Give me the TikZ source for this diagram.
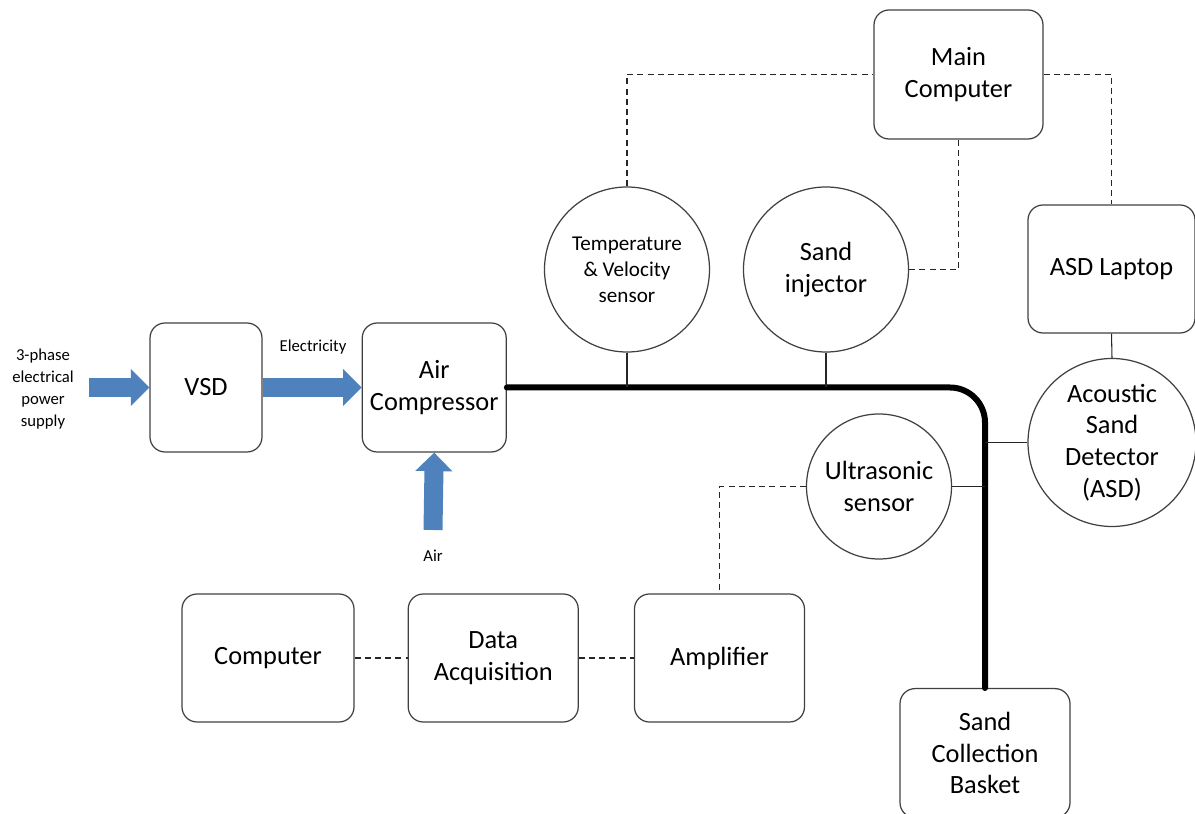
\documentclass[tikz,border=0pt]{standalone}
\usepackage{fontspec}
\setmainfont{Carlito}
\usepackage{tikz}
\usetikzlibrary{shapes,arrows.meta,positioning,calc}
\definecolor{flowblue}{HTML}{4F81BD}

\begin{document}
\begin{tikzpicture}[
    box/.style={rectangle, rounded corners=0.3cm, draw=black!75, line width=0.7pt, align=center, font=\fontsize{15}{18}\selectfont, inner sep=0pt},
    sensor/.style={circle, draw=black!75, line width=0.7pt, align=center, font=\fontsize{15}{18}\selectfont, inner sep=0pt},
    link/.style={black!85, line width=0.6pt},
    signal/.style={black!85, line width=0.6pt, dash pattern=on 3.4pt off 2.4pt},
    pipe/.style={line width=0.12cm, rounded corners=0.7cm, line cap=round},
    flow/.style={flowblue, line width=0.38cm, -{Triangle[width=0.72cm, length=0.37cm]}},
    label/.style={font=\fontsize{9.5}{12.5}\selectfont, align=center}
]
\useasboundingbox (0,0) rectangle (23.9,16.28);

% Supply chain
\node[box, minimum width=2.24cm, minimum height=2.58cm] (vsd) at (4.12,8.53) {VSD};
\node[box, minimum width=2.88cm, minimum height=2.58cm, right=1.98cm of vsd] (aircomp) {Air\\Compressor};

% Control computers
\node[box, minimum width=3.38cm, minimum height=2.58cm] (maincomp) at (19.17,14.79) {Main\\Computer};
\node[box, minimum width=3.34cm, minimum height=2.56cm] (laptop) at (22.23,10.90) {ASD Laptop};

% Sensors
\node[sensor, minimum size=3.3cm, font=\fontsize{12}{14.7}\selectfont] (tempsens) at (12.54,10.89) {Temperature\\\& Velocity\\sensor};
\node[sensor, minimum size=3.3cm] (injector) at (16.52,10.89) {Sand\\injector};
\node[sensor, minimum size=2.9cm] (ultrasonic) at (17.58,6.55) {Ultrasonic\\sensor};
\node[sensor, minimum size=3.36cm] (asd) at (22.24,7.43) {Acoustic\\Sand\\Detector\\(ASD)};

% Acquisition chain
\node[box, minimum width=3.44cm, minimum height=2.56cm] (computer) at (5.36,3.12) {Computer};
\node[box, minimum width=3.4cm, minimum height=2.56cm, right=1.06cm of computer] (dacq) {Data\\Acquisition};
\node[box, minimum width=3.4cm, minimum height=2.56cm, right=1.1cm of dacq] (amplifier) {Amplifier};

% Collection basket
\node[box, minimum width=3.4cm, minimum height=2.58cm, anchor=north] (basket) at (19.70,2.52) {Sand\\Collection\\Basket};

% Blue flow arrows
\coordinate (supply) at (1.78,8.53);
\coordinate (airin) at (8.66,5.68);
\draw[flow] (supply) -- (vsd.west);
\draw[flow] (vsd.east) -- (aircomp.west);
\draw[flow] (airin) -- (aircomp.south);

% Flow labels
\node[label] (supplylbl) at (0.86,8.50) {3-phase\\electrical\\power\\supply};
\node[label] (eleclbl) at (6.26,9.34) {Electricity};
\node[label] (airlbl) at (8.66,5.16) {Air};

% Pipe line
\draw[pipe] (aircomp.east) -| (basket.north);

% Sensor taps on the pipe
\draw[link] (tempsens.south) -- (tempsens.south |- aircomp.east);
\draw[link] (injector.south) -- (injector.south |- aircomp.east);
\draw[link] (ultrasonic.east) -- (ultrasonic.east -| basket.north);
\draw[link] (asd.west) -- (asd.west -| basket.north);
\draw[link] (laptop.south) -- (asd.north);

% Signal lines
\draw[signal] (tempsens.north) |- (maincomp.west);
\draw[signal] (maincomp.south) |- (injector.east);
\draw[signal] (maincomp.east) -| (laptop.north);
\draw[signal] (ultrasonic.west) -| (amplifier.north);
\draw[signal] (computer.east) -- (dacq.west);
\draw[signal] (dacq.east) -- (amplifier.west);

\end{tikzpicture}
\end{document}
